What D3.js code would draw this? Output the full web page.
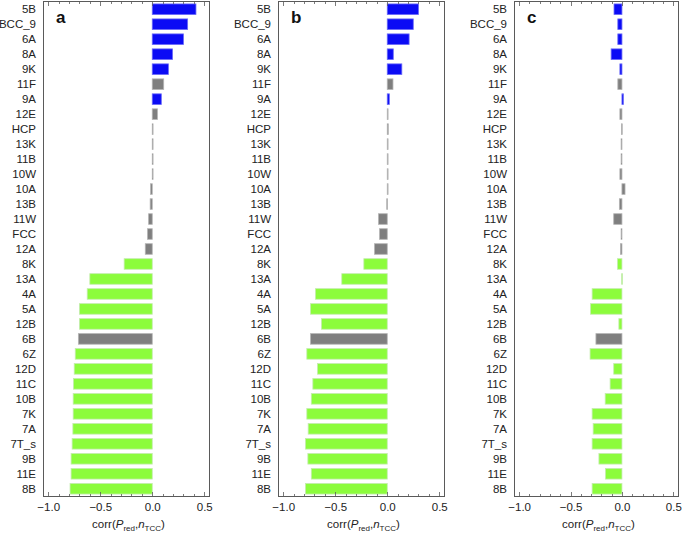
<!DOCTYPE html>
<html>
<head>
<meta charset="utf-8">
<script src="https://cdn.jsdelivr.net/npm/d3@7"></script>
<style>
  html, body { margin: 0; padding: 0; background: #fff; }
  svg { display: block; }
  text { font-family: "Liberation Sans", Arial, Helvetica, sans-serif; }
</style>
</head>
<body>
<svg id="chart" width="683" height="533"></svg>
<script>
// ---- data ----
const categories = ["5B","BCC_9","6A","8A","9K","11F","9A","12E","HCP","13K","11B","10W","10A","13B","11W","FCC","12A","8K","13A","4A","5A","12B","6B","6Z","12D","11C","10B","7K","7A","7T_s","9B","11E","8B"];
// colour group per category: b = blue, g = grey, l = green
const groups = ["b","b","b","b","b","g","b","g","g","g","g","g","g","g","g","g","g","l","l","l","l","l","g","l","l","l","l","l","l","l","l","l","l"];
const valuesA = [0.42,0.34,0.30,0.195,0.155,0.11,0.087,0.05,0.003,0.002,0.002,0.001,-0.016,-0.02,-0.035,-0.045,-0.067,-0.27,-0.60,-0.625,-0.70,-0.70,-0.71,-0.74,-0.75,-0.757,-0.76,-0.76,-0.763,-0.77,-0.78,-0.78,-0.79];
const valuesB = [0.30,0.25,0.21,0.058,0.14,0.055,0.02,0.002,0.01,0.002,0.006,0.002,0.002,-0.005,-0.084,-0.074,-0.122,-0.225,-0.437,-0.69,-0.737,-0.632,-0.737,-0.773,-0.67,-0.715,-0.73,-0.773,-0.76,-0.786,-0.763,-0.73,-0.786];
const valuesC = [-0.077,-0.04,-0.04,-0.105,-0.02,-0.04,0.014,-0.02,-0.005,-0.008,-0.008,-0.02,0.03,-0.025,-0.08,-0.008,-0.015,-0.043,-0.003,-0.29,-0.305,-0.03,-0.253,-0.31,-0.08,-0.115,-0.163,-0.29,-0.28,-0.29,-0.224,-0.16,-0.29];
const panelLabels = ["a","b","c"];
const majorTicks = [-1.0,-0.5,0.0,0.5];
const minorTicks = [-1.0,-0.9,-0.8,-0.7,-0.6,-0.5,-0.4,-0.3,-0.2,-0.1,0.0,0.1,0.2,0.3,0.4,0.5];

// ---- styles ----
const fills = { b: "#0b0bf5", g: "#7f7f7f", l: "#8cfc3c" };
const strokes = { b: "#6a6af8", g: "#b4b4b4", l: "#c4ecae" };

const svg = d3.select("#chart");
const panels = [
  { left: 43, right: 210, values: valuesA, label: panelLabels[0] },
  { left: 278, right: 445, values: valuesB, label: panelLabels[1] },
  { left: 514, right: 679, values: valuesC, label: panelLabels[2] }
];
const plotTop = 1, plotBottom = 497;

const y = d3.scalePoint().domain(categories).range([plotTop, plotBottom]).padding(0.55);
const barH = 10.6;

panels.forEach(p => {
  const x = d3.scaleLinear().domain([-1.05, 0.555]).range([p.left, p.right]);
  const g = svg.append("g");

  // bars
  g.selectAll("rect.bar")
    .data(categories.map((c, i) => ({ c, v: p.values[i], grp: groups[i] })))
    .join("rect")
    .attr("class", "bar")
    .attr("x", d => x(Math.min(0, d.v)))
    .attr("width", d => Math.max(0.8, Math.abs(x(d.v) - x(0))))
    .attr("y", d => y(d.c) - barH / 2)
    .attr("height", barH)
    .attr("fill", d => fills[d.grp])
    .attr("stroke", d => strokes[d.grp])
    .attr("stroke-width", 0.8);

  // frame
  g.append("rect")
    .attr("x", p.left + 0.5).attr("y", plotTop + 0.5)
    .attr("width", p.right - p.left - 1).attr("height", plotBottom - plotTop - 1)
    .attr("fill", "none").attr("stroke", "#5a5a5a").attr("stroke-width", 1);

  // bottom axis ticks (inward) + top ticks
  const isMajor = v => majorTicks.some(m => Math.abs(m - v) < 1e-9);
  minorTicks.forEach(v => {
    const len = isMajor(v) ? 5 : 3;
    const xx = Math.round(x(v)) + 0.5;
    g.append("line").attr("x1", xx).attr("x2", xx)
      .attr("y1", plotBottom).attr("y2", plotBottom - len)
      .attr("stroke", "#5a5a5a").attr("stroke-width", 0.8);
    g.append("line").attr("x1", xx).attr("x2", xx)
      .attr("y1", plotTop).attr("y2", plotTop + len)
      .attr("stroke", "#5a5a5a").attr("stroke-width", 0.8);
  });

  // bottom tick labels
  const axis = d3.axisBottom(x).tickValues(majorTicks).tickSize(0).tickPadding(6)
    .tickFormat(d => d3.format(".1f")(d).replace("-", "\u2212"));
  const ax = g.append("g").attr("transform", `translate(0,${plotBottom})`).call(axis);
  ax.select(".domain").remove();
  ax.selectAll("text").attr("font-size", 11.5).attr("fill", "#222")
    .attr("font-family", "Liberation Sans, Arial, sans-serif");

  // category labels
  const yaxis = d3.axisLeft(y).tickSize(0).tickPadding(7);
  const ay = g.append("g").attr("transform", `translate(${p.left},0)`).call(yaxis);
  ay.select(".domain").remove();
  ay.selectAll("text").attr("font-size", 11.5).attr("fill", "#222")
    .attr("font-family", "Liberation Sans, Arial, sans-serif");

  // panel letter
  g.append("text").attr("x", p.left + 13).attr("y", 23)
    .attr("font-size", 17).attr("font-weight", "bold").attr("fill", "#111")
    .text(p.label);

  // x-axis title
  const t = g.append("text")
    .attr("x", (p.left + p.right) / 2 + 2).attr("y", 528)
    .attr("text-anchor", "middle").attr("font-size", 11.5).attr("fill", "#222");
  t.append("tspan").text("corr(");
  t.append("tspan").attr("font-style", "italic").text("P");
  t.append("tspan").attr("font-size", 8).attr("dy", 3).text("red");
  t.append("tspan").attr("dy", -3).text(",");
  t.append("tspan").attr("font-style", "italic").text("n");
  t.append("tspan").attr("font-size", 8).attr("dy", 3).text("TCC");
  t.append("tspan").attr("dy", -3).text(")");
});
</script>
</body>
</html>
